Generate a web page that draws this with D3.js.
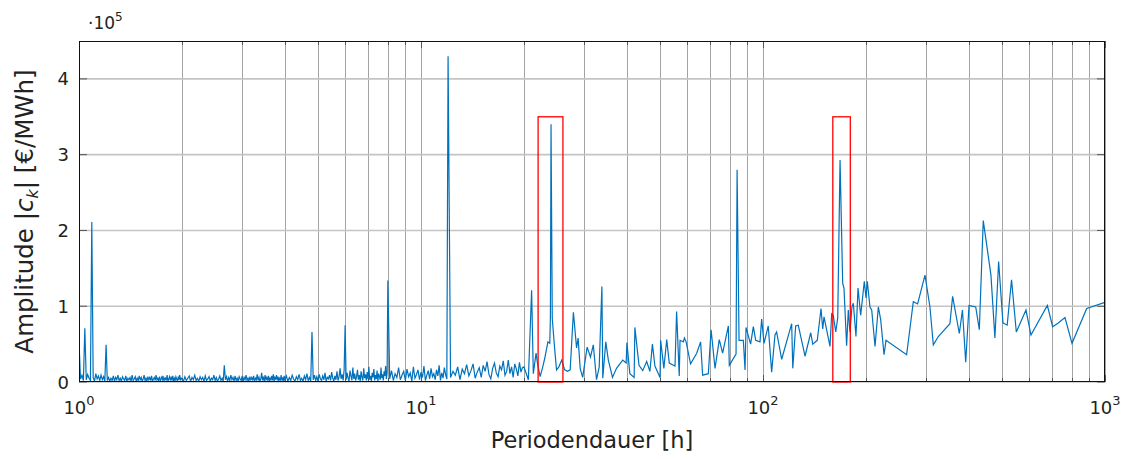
<!DOCTYPE html>
<meta charset="utf-8">
<style>
  body { margin: 0; background: #fff; }
  text { font-family: "DejaVu Sans", "Liberation Sans", sans-serif; fill: #222; }
</style>
<body>
<script src="https://d3js.org/d3.v7.min.js"></script>
<script>
// periods in hours
var periods = [
  // 1.00 - 1.99
  1.00,1.01,1.02,1.03,1.04,1.05,1.06,1.07,1.08,1.09,
  1.10,1.11,1.12,1.13,1.14,1.15,1.16,1.17,1.18,1.19,
  1.20,1.21,1.22,1.23,1.24,1.25,1.26,1.27,1.28,1.29,
  1.30,1.31,1.32,1.33,1.34,1.35,1.36,1.37,1.38,1.39,
  1.40,1.41,1.42,1.43,1.44,1.45,1.46,1.47,1.48,1.49,
  1.50,1.51,1.52,1.53,1.54,1.55,1.56,1.57,1.58,1.59,
  1.60,1.61,1.62,1.63,1.64,1.65,1.66,1.67,1.68,1.69,
  1.70,1.71,1.72,1.73,1.74,1.75,1.76,1.77,1.78,1.79,
  1.80,1.81,1.82,1.83,1.84,1.85,1.86,1.87,1.88,1.89,
  1.90,1.91,1.92,1.93,1.94,1.95,1.96,1.97,1.98,1.99,
  // 2.00 - 3.98
  2.00,2.02,2.04,2.06,2.08,2.10,2.12,2.14,2.16,2.18,
  2.20,2.22,2.24,2.26,2.28,2.30,2.32,2.34,2.36,2.38,
  2.40,2.42,2.44,2.46,2.48,2.50,2.52,2.54,2.56,2.58,
  2.60,2.62,2.64,2.66,2.68,2.70,2.72,2.74,2.76,2.78,
  2.80,2.82,2.84,2.86,2.88,2.90,2.92,2.94,2.96,2.98,
  3.00,3.02,3.04,3.06,3.08,3.10,3.12,3.14,3.16,3.18,
  3.20,3.22,3.24,3.26,3.28,3.30,3.32,3.34,3.36,3.38,
  3.40,3.42,3.44,3.46,3.48,3.50,3.52,3.54,3.56,3.58,
  3.60,3.62,3.64,3.66,3.68,3.70,3.72,3.74,3.76,3.78,
  3.80,3.82,3.84,3.86,3.88,3.90,3.92,3.94,3.96,3.98,
  // 4.00 - 7.96
  4.00,4.04,4.08,4.12,4.16,4.20,4.24,4.28,4.32,4.36,
  4.40,4.44,4.48,4.52,4.56,4.60,4.64,4.68,4.72,4.76,
  4.80,4.84,4.88,4.92,4.96,5.00,5.04,5.08,5.12,5.16,
  5.20,5.24,5.28,5.32,5.36,5.40,5.44,5.48,5.52,5.56,
  5.60,5.64,5.68,5.72,5.76,5.80,5.84,5.88,5.92,5.96,
  6.00,6.04,6.08,6.12,6.16,6.20,6.24,6.28,6.32,6.36,
  6.40,6.44,6.48,6.52,6.56,6.60,6.64,6.68,6.72,6.76,
  6.80,6.84,6.88,6.92,6.96,7.00,7.04,7.08,7.12,7.16,
  7.20,7.24,7.28,7.32,7.36,7.40,7.44,7.48,7.52,7.56,
  7.60,7.64,7.68,7.72,7.76,7.80,7.84,7.88,7.92,7.96,
  // 8.0 - 11.9
  8.0,8.1,8.2,8.3,8.4,8.5,8.6,8.7,8.8,8.9,
  9.0,9.1,9.2,9.3,9.4,9.5,9.6,9.7,9.8,9.9,
  10.0,10.1,10.2,10.3,10.4,10.5,10.6,10.7,10.8,10.9,
  11.0,11.1,11.2,11.3,11.4,11.5,11.6,11.7,11.8,11.9,
  // 12.0 - 19.8
  12.0,12.2,12.4,12.6,12.8,13.0,13.2,13.4,13.6,13.8,
  14.0,14.2,14.4,14.6,14.8,15.0,15.2,15.4,15.6,15.8,
  16.0,16.2,16.4,16.6,16.8,17.0,17.2,17.4,17.6,17.8,
  18.0,18.2,18.4,18.6,18.8,19.0,19.2,19.4,19.6,19.8,
  // 20 - 1000
  20.0,20.6,21.06,21.3,21.7,21.9,22.3,22.7,23.0,23.5,
  23.8,23.9,24.0,24.2,24.5,24.9,25.3,25.8,26.3,26.8,
  27.3,27.9,28.5,28.8,29.2,29.7,30.6,31.3,31.9,32.6,
  33.2,33.8,34.0,34.7,35.3,36.3,37.3,38.9,39.8,40.0,
  40.8,42.0,42.2,43.4,44.5,45.7,46.7,47.5,48.3,50.0,
  50.2,51.3,52.3,53.2,55.3,55.9,56.9,57.2,58.5,58.9,
  59.6,61.4,64.0,65.7,66.6,69.2,70.5,72.4,74.5,76.2,
  79.2,79.7,83.4,84.0,85.1,87.6,88.6,89.2,92.0,93.7,
  95.2,98.0,99.1,100.7,103.6,106.0,108.4,109.6,113.4,121.3,
  122.2,124.6,126.8,132.7,137.9,139.8,144.1,147.8,149.5,150.8,
  157.0,158.8,160.5,163.2,165.4,168.0,171.0,172.5,175.6,177.6,
  179.6,182.0,183.7,187.0,189.6,193.0,197.8,200.1,201.8,205.5,
  207.9,212.6,217.4,220.9,225.9,228.9,263.0,275.1,283.2,297.6,
  307.7,314.8,325.6,352.0,358.5,375.0,383.0,391.5,400.3,418.8,
  429.0,440.6,464.0,476.5,488.6,503.0,517.6,533.0,550.4,587.4,
  607.5,678.3,703.0,730.0,763.7,800.8,884.0,1000
];

// amplitude |c_k| in 1000 EUR/MWh, same order as periods
var amplitudeK = [
  53,4,9,2,71,3,10,5,2,211,
  6,1,11,4,8,2,9,3,7,1,
  49,2,6,1,5,2,8,1,6,3,
  9,2,5,1,7,4,2,8,1,5,
  3,6,1,9,2,4,7,1,5,2,
  8,3,6,1,4,9,2,5,1,7,
  3,6,2,8,1,4,6,2,9,3,
  5,1,7,2,4,8,1,6,3,5,
  2,9,1,4,7,2,6,3,8,1,
  5,2,7,4,1,6,3,9,2,5,

  4,1,7,2,5,8,1,6,3,9,
  2,5,1,7,3,6,1,8,2,4,
  7,1,5,3,9,2,6,1,4,8,
  2,5,1,22,3,7,1,6,2,9,
  3,6,1,8,2,5,1,7,4,2,
  8,1,6,3,9,2,5,1,7,3,
  6,2,8,1,5,3,10,2,6,1,
  4,12,2,7,1,9,3,6,2,8,
  1,5,3,8,2,10,1,6,4,9,
  2,7,1,5,3,9,2,6,1,8,

  3,8,1,6,2,9,4,1,7,3,
  10,2,5,1,8,3,11,2,6,1,
  66,3,9,2,7,1,10,4,2,8,
  3,12,1,6,4,9,2,13,5,1,
  8,3,14,2,7,18,4,10,2,16,
  75,3,12,5,1,15,8,2,19,4,
  11,2,7,16,3,9,1,14,6,2,
  18,5,10,2,13,4,20,3,8,1,
  12,6,17,2,9,4,15,1,11,7,
  3,19,5,10,2,14,8,21,4,12,

  134,4,15,2,11,6,19,3,9,14,
  2,17,7,12,1,20,5,10,16,3,
  13,6,21,2,9,15,4,18,7,11,
  3,16,8,22,2,12,5,19,10,4,

  430,6,14,9,20,3,17,11,23,8,
  15,24,5,13,19,6,22,14,27,10,
  4,18,25,12,7,21,16,28,9,14,
  29,11,20,6,24,17,8,26,13,19,

  20,3,121,11,38,25,7,20,31,53,
  51,86,340,84,53,16,20,29,16,14,
  16,92,45,58,18,6,46,33,49,3,
  20,126,5,53,29,6,18,29,25,52,
  11,6,72,22,15,27,14,50,21,6,
  55,18,56,25,21,93,8,55,53,58,
  53,24,38,53,9,11,69,18,56,38,
  74,22,37,280,55,55,16,72,50,73,
  55,53,83,51,74,13,62,66,30,77,
  18,74,75,34,65,50,55,97,70,86,
  47,90,88,66,85,293,130,124,48,95,
  66,99,104,60,124,88,133,111,133,99,
  95,47,99,82,36,55,36,106,103,141,
  99,49,60,77,113,64,95,26,101,99,
  69,213,141,58,159,78,75,135,66,95,
  62,101,73,78,85,51,97,105
];

// marked period ranges [from, to] in h, box height in EUR/MWh
var marks = [[22, 26], [160, 180]];
var markHeight = 350000;

var xTickValues = [1, 10, 100, 1000];
var xTickExp = ["0", "1", "2", "3"];
var yTickValues = [0, 100000, 200000, 300000, 400000];

if (periods.length !== amplitudeK.length) throw new Error("length mismatch " + periods.length + " / " + amplitudeK.length);

var width = 1128, height = 459;
var margin = {top: 41, right: 23, bottom: 77, left: 79};
var x0 = margin.left, x1 = width - margin.right,
    y0 = height - margin.bottom, y1 = margin.top;

var svg = d3.select("body").append("svg")
    .attr("width", width)
    .attr("height", height);

var x = d3.scaleLog().domain([1, 1000]).range([x0, x1]);
var y = d3.scaleLinear().domain([0, 450000]).range([y0, y1]);

var data = periods.map(function(p, i) { return {p: p, a: amplitudeK[i] * 1000}; });

svg.append("clipPath").attr("id", "clip")
  .append("rect").attr("x", x0).attr("y", y1).attr("width", x1 - x0).attr("height", y0 - y1);

// grid
var minorTicks = x.ticks();
svg.append("g").selectAll("line").data(minorTicks).enter().append("line")
    .attr("x1", function(d) { return Math.round(x(d)) + 0.5; })
    .attr("x2", function(d) { return Math.round(x(d)) + 0.5; })
    .attr("y1", y1).attr("y2", y0)
    .attr("stroke", "#a3a3a3").attr("stroke-width", 1);

svg.append("g").selectAll("line").data(yTickValues).enter().append("line")
    .attr("x1", x0).attr("x2", x1)
    .attr("y1", function(d) { return y(d); })
    .attr("y2", function(d) { return y(d); })
    .attr("stroke", "#c4c4c4").attr("stroke-width", 1.6);

// inner ticks
var tk = svg.append("g").attr("stroke", "#555").attr("stroke-width", 1);
minorTicks.forEach(function(d) {
  var len = xTickValues.indexOf(d) >= 0 ? 7 : 4;
  var px = Math.round(x(d)) + 0.5;
  tk.append("line").attr("x1", px).attr("x2", px).attr("y1", y0).attr("y2", y0 - len);
  tk.append("line").attr("x1", px).attr("x2", px).attr("y1", y1).attr("y2", y1 + len);
});
yTickValues.forEach(function(d) {
  tk.append("line").attr("x1", x0).attr("x2", x0 + 8).attr("y1", y(d)).attr("y2", y(d));
  tk.append("line").attr("x1", x1).attr("x2", x1 - 8).attr("y1", y(d)).attr("y2", y(d));
});

// spectrum
var line = d3.line()
    .x(function(d) { return x(d.p); })
    .y(function(d) { return y(d.a); });

svg.append("path")
    .datum(data)
    .attr("clip-path", "url(#clip)")
    .attr("fill", "none")
    .attr("stroke", "#0072bd")
    .attr("stroke-width", 1.2)
    .attr("d", line);

// marked boxes
svg.append("g").selectAll("rect").data(marks).enter().append("rect")
    .attr("x", function(d) { return x(d[0]); })
    .attr("y", y(markHeight))
    .attr("width", function(d) { return x(d[1]) - x(d[0]); })
    .attr("height", y(0) - y(markHeight))
    .attr("fill", "none")
    .attr("stroke", "#ff0000")
    .attr("stroke-width", 1.3);

// frame
svg.append("rect")
    .attr("x", x0 + 0.5).attr("y", y1 + 0.5)
    .attr("width", x1 - x0 - 1).attr("height", y0 - y1 - 1)
    .attr("fill", "none").attr("stroke", "#111").attr("stroke-width", 1);

// x tick labels
xTickValues.forEach(function(d, i) {
  var t = svg.append("text")
      .attr("x", x(d))
      .attr("y", y0 + 32)
      .attr("text-anchor", "middle")
      .style("font-size", "18px")
      .text("10");
  t.append("tspan").attr("dy", -9).style("font-size", "13px").text(xTickExp[i]);
});

// y tick labels
svg.append("g").selectAll("text").data(yTickValues).enter().append("text")
    .attr("x", x0 - 10)
    .attr("y", function(d) { return y(d) + 6.5; })
    .attr("text-anchor", "end")
    .style("font-size", "18px")
    .text(function(d) { return d / 100000; });

// scale factor
var sf = svg.append("text").attr("x", 88).attr("y", 29).style("font-size", "17px").text("\u00b710");
sf.append("tspan").attr("dy", -8).style("font-size", "12px").text("5");

// axis titles
svg.append("text")
    .attr("x", (x0 + x1) / 2)
    .attr("y", 448)
    .attr("text-anchor", "middle")
    .style("font-size", "22.5px")
    .text("Periodendauer [h]");

var yl = svg.append("text")
    .attr("transform", "translate(33," + ((y0 + y1) / 2) + ") rotate(-90)")
    .attr("text-anchor", "middle")
    .style("font-size", "24.5px");
yl.append("tspan").text("Amplitude |");
yl.append("tspan").style("font-style", "italic").text("c");
yl.append("tspan").attr("dy", 5).style("font-size", "16px").style("font-style", "italic").text("k");
yl.append("tspan").attr("dy", -5).text("| [\u20ac/MWh]");
</script>
</body>
